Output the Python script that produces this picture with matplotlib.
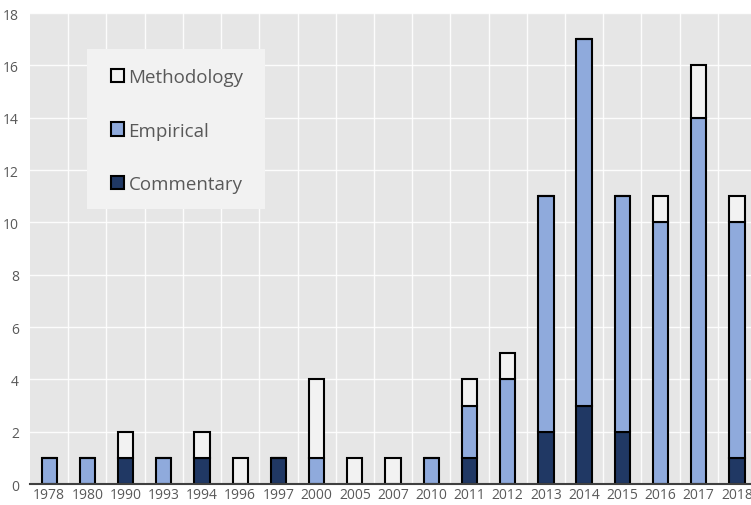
import matplotlib.pyplot as plt
import numpy as np
from matplotlib.patches import Patch, Rectangle

years = ['1978', '1980', '1990', '1993', '1994', '1996', '1997', '2000', '2005', '2007',
         '2010', '2011', '2012', '2013', '2014', '2015', '2016', '2017', '2018']
commentary = [0, 0, 1, 0, 1, 0, 1, 0, 0, 0, 0, 1, 0, 2, 3, 2, 0, 0, 1]
empirical = [1, 1, 0, 1, 0, 0, 0, 1, 0, 0, 1, 2, 4, 9, 14, 9, 10, 14, 9]
methodology = [0, 0, 1, 0, 1, 1, 0, 3, 1, 1, 0, 1, 1, 0, 0, 0, 1, 2, 1]

c_comm = '#203864'
c_emp = '#8faadc'
c_meth = '#f2f2f2'

plt.rcParams['font.family'] = ['Open Sans', 'DejaVu Sans']

fig = plt.figure(figsize=(7.51, 5.06), dpi=100)
ax = fig.add_axes([0.04, 0.0415, 0.9667, 0.9305])
ax.set_facecolor('#e6e6e6')

x = np.arange(len(years))
comm = np.array(commentary, dtype=float)
emp = np.array(empirical, dtype=float)
meth = np.array(methodology, dtype=float)
w = 0.4
kw = dict(width=w, edgecolor='black', linewidth=1.5, zorder=3)
ax.bar(x, comm, color=c_comm, **kw)
ax.bar(x, emp, bottom=comm, color=c_emp, **kw)
ax.bar(x, meth, bottom=comm + emp, color=c_meth, **kw)

# white grid: horizontal at every 2, vertical between categories
ax.set_ylim(0, 18)
ax.set_yticks(np.arange(0, 19, 2))
ax.set_xlim(-0.5, len(years) - 0.5)
ax.set_xticks(x)
ax.set_xticklabels(years)
for yy in np.arange(2, 19, 2):
    ax.axhline(yy, color='white', linewidth=1.0, alpha=0.9, zorder=1)
for xx in np.arange(0.5, len(years) - 0.5, 1):
    ax.axvline(xx, color='white', linewidth=1.0, alpha=0.9, zorder=1)

for s in ['top', 'right', 'left']:
    ax.spines[s].set_visible(False)
ax.spines['bottom'].set_color('#404040')
ax.spines['bottom'].set_linewidth(1.5)
ax.spines['bottom'].set_zorder(4)
ax.tick_params(axis='both', length=0, colors='#595959', labelsize=10)
ax.tick_params(axis='x', pad=2)
ax.tick_params(axis='y', pad=8)

# legend panel
ax.add_patch(Rectangle((0.0785, 0.584), 0.245, 0.34, transform=ax.transAxes,
                       facecolor='#f2f2f2', edgecolor='none', zorder=5))
handles = [Patch(facecolor=c_meth, edgecolor='black', linewidth=1.5, label='Methodology'),
           Patch(facecolor=c_emp, edgecolor='black', linewidth=1.5, label='Empirical'),
           Patch(facecolor=c_comm, edgecolor='black', linewidth=1.5, label='Commentary')]
leg = ax.legend(handles=handles, loc='upper left', bbox_to_anchor=(0.111, 0.8836),
                frameon=False, fontsize=13.5, labelspacing=1.9,
                handlelength=0.7, handleheight=0.7, handletextpad=0.25,
                borderpad=0, borderaxespad=0, labelcolor='#595959')
leg.set_zorder(6)

fig.savefig('out.png', dpi=100)
